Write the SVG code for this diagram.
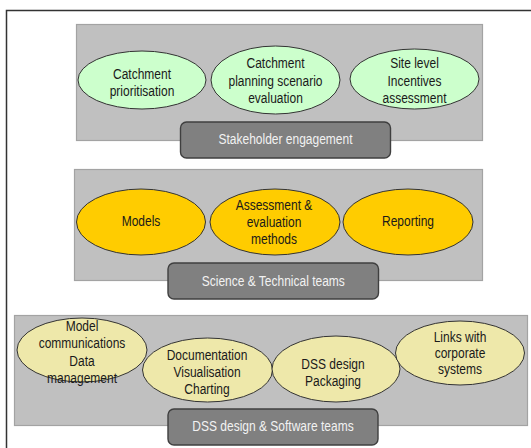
<svg xmlns="http://www.w3.org/2000/svg" width="531" height="448" viewBox="0 0 531 448">
  <style>
    .frame { fill: none; stroke: #333333; stroke-width: 1.5; }
    .panel { fill: #c0c0c0; stroke: #a3a3a3; stroke-width: 1.2; }
    .green { fill: #ccffcc; stroke: #333333; stroke-width: 1; }
    .gold { fill: #ffcc00; stroke: #333333; stroke-width: 1; }
    .khaki { fill: #eee8aa; stroke: #333333; stroke-width: 1; }
    .tag { fill: #808080; stroke: #3f3f3f; stroke-width: 1.4; }
    text { font-family: "Liberation Sans", Arial, sans-serif; font-size: 15px; text-anchor: middle; }
    .dark { fill: #1a1a1a; }
    .light { fill: #f2f2f2; }
  </style>

  <!-- page frame (runs off the right and bottom edges) -->
  <path class="frame" d="M6.5 448 V10.5 H531"/>

  <!-- group panels -->
  <rect id="panel-stakeholder" class="panel" x="76.5" y="24.5" width="406" height="116"/>
  <rect id="panel-science" class="panel" x="74.5" y="169.5" width="408" height="111"/>
  <rect id="panel-software" class="panel" x="14.5" y="315.5" width="513" height="110"/>

  <g id="connectors"/>

  <!-- Stakeholder engagement row -->
  <g id="catchment-prioritisation">
    <ellipse class="green" cx="142" cy="80" rx="64" ry="29"/>
    <text class="dark" transform="matrix(0.8 0 0 1 142 0)"><tspan x="0" y="79.5">Catchment</tspan><tspan x="0" y="96.5">prioritisation</tspan></text>
  </g>
  <g id="catchment-planning">
    <ellipse class="green" cx="275.5" cy="80" rx="64.5" ry="34"/>
    <text class="dark" transform="matrix(0.8 0 0 1 275.5 0)"><tspan x="0" y="68.5">Catchment</tspan><tspan x="0" y="86">planning scenario</tspan><tspan x="0" y="103.5">evaluation</tspan></text>
  </g>
  <g id="site-incentives">
    <ellipse class="green" cx="414.5" cy="79" rx="64.5" ry="30"/>
    <text class="dark" transform="matrix(0.8 0 0 1 414.5 0)"><tspan x="0" y="68.5">Site level</tspan><tspan x="0" y="86">Incentives</tspan><tspan x="0" y="103.5">assessment</tspan></text>
  </g>
  <g id="stakeholder-engagement">
    <rect class="tag" x="180.5" y="122" width="210" height="36" rx="6"/>
    <text class="light" transform="matrix(0.8 0 0 1 285.5 0)" x="0" y="144.5">Stakeholder engagement</text>
  </g>

  <!-- Science & Technical row -->
  <g id="models">
    <ellipse class="gold" cx="141" cy="222" rx="64.5" ry="33"/>
    <text class="dark" transform="matrix(0.8 0 0 1 141 0)" x="0" y="226.5">Models</text>
  </g>
  <g id="assessment-methods">
    <ellipse class="gold" cx="275" cy="222" rx="65" ry="33"/>
    <text class="dark" transform="matrix(0.8 0 0 1 274 0)"><tspan x="0" y="210">Assessment &amp;</tspan><tspan x="0" y="227">evaluation</tspan><tspan x="0" y="244">methods</tspan></text>
  </g>
  <g id="reporting">
    <ellipse class="gold" cx="408" cy="222" rx="65" ry="33"/>
    <text class="dark" transform="matrix(0.8 0 0 1 408 0)" x="0" y="226.5">Reporting</text>
  </g>
  <g id="science-technical">
    <rect class="tag" x="168" y="263" width="210.5" height="36" rx="6"/>
    <text class="light" transform="matrix(0.8 0 0 1 273.3 0)" x="0" y="285.5">Science &amp; Technical teams</text>
  </g>

  <!-- DSS design & Software row -->
  <g id="model-communications">
    <ellipse class="khaki" cx="82" cy="350" rx="65" ry="32"/>
    <text class="dark" transform="matrix(0.8 0 0 1 82 0)"><tspan x="0" y="331">Model</tspan><tspan x="0" y="348.5">communications</tspan><tspan x="0" y="366">Data</tspan><tspan x="0" y="383.5">management</tspan></text>
  </g>
  <g id="documentation">
    <ellipse class="khaki" cx="207.5" cy="370" rx="65" ry="32"/>
    <text class="dark" transform="matrix(0.8 0 0 1 207 0)"><tspan x="0" y="360">Documentation</tspan><tspan x="0" y="377">Visualisation</tspan><tspan x="0" y="394">Charting</tspan></text>
  </g>
  <g id="dss-packaging">
    <ellipse class="khaki" cx="336" cy="369" rx="64" ry="33"/>
    <text class="dark" transform="matrix(0.8 0 0 1 333 0)"><tspan x="0" y="369.5">DSS design</tspan><tspan x="0" y="386.5">Packaging</tspan></text>
  </g>
  <g id="corporate-links">
    <ellipse class="khaki" cx="460" cy="353" rx="64.5" ry="32"/>
    <text class="dark" transform="matrix(0.8 0 0 1 460 0)"><tspan x="0" y="342.5">Links with</tspan><tspan x="0" y="358.5">corporate</tspan><tspan x="0" y="374.5">systems</tspan></text>
  </g>
  <g id="dss-software">
    <rect class="tag" x="168" y="409" width="210" height="36" rx="6"/>
    <text class="light" transform="matrix(0.8 0 0 1 273 0)" x="0" y="431.5">DSS design &amp; Software teams</text>
  </g>
</svg>
